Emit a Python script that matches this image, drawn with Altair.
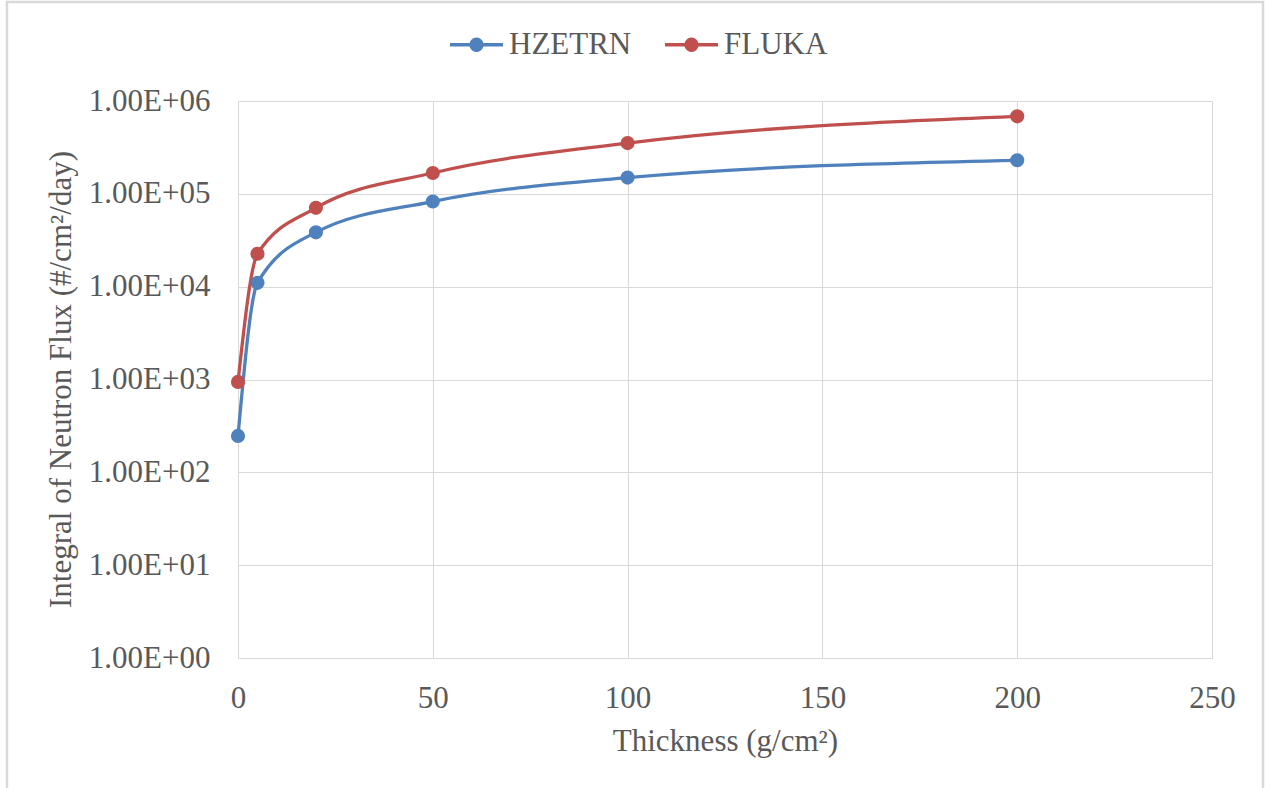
import math
import altair as alt
import pandas as pd

# ---- data ----
thickness = [0, 5, 20, 50, 100, 200]
hzetrn = [247, 11000, 38500, 82600, 149700, 229800]
fluka = [942, 22600, 70600, 167600, 352000, 684000]
series_names = ["HZETRN", "FLUKA"]
series_colors = ["#4F81BD", "#C0504D"]
x_ticks = [0, 50, 100, 150, 200, 250]
y_ticks = [1, 10, 100, 1000, 10000, 100000, 1000000]

rows = []
for name, vals in zip(series_names, [hzetrn, fluka]):
    for t, v in zip(thickness, vals):
        rows.append({"series": name, "thickness": t, "flux": v})
df = pd.DataFrame(rows)

FONT = "Liberation Serif"
TXT = "#595959"
GRID = "#D9D9D9"

color_scale = alt.Scale(domain=series_names, range=series_colors)

# legend glyph: line segment with a dot (unit square path)
_r = 0.27
_circle = "M" + "L".join(
    f"{_r*math.cos(2*math.pi*k/24):.4f},{_r*math.sin(2*math.pi*k/24):.4f}" for k in range(24)
) + "Z"
symbol_path = "M-1,-0.07L1,-0.07L1,0.07L-1,0.07Z " + _circle

x_enc = alt.X(
    "thickness:Q",
    scale=alt.Scale(domain=[0, 250], nice=False, zero=False),
    axis=alt.Axis(
        values=x_ticks,
        title="Thickness (g/cm²)",
        grid=True,
        gridColor=GRID,
        domain=True,
        domainColor=GRID,
        ticks=False,
        labelFlush=False,
        labelOverlap=False,
        labelFont=FONT,
        labelFontSize=31,
        labelColor=TXT,
        labelBaseline="alphabetic",
        labelPadding=49,
        titleFont=FONT,
        titleFontSize=31,
        titleFontWeight="normal",
        titleColor=TXT,
        titleBaseline="alphabetic",
        titleY=92,
    ),
)
y_enc = alt.Y(
    "flux:Q",
    scale=alt.Scale(type="log", domain=[1, 1000000], nice=False),
    axis=alt.Axis(
        values=y_ticks,
        labelExpr="'1.00E+0' + format(round(log(datum.value) / LN10), 'd')",
        title="Integral of Neutron Flux (#/cm²/day)",
        grid=True,
        gridColor=GRID,
        domain=False,
        ticks=False,
        labelFlush=False,
        labelOverlap=False,
        labelFont=FONT,
        labelFontSize=31,
        labelColor=TXT,
        labelPadding=28,
        titleFont=FONT,
        titleFontSize=31,
        titleFontWeight="normal",
        titleColor=TXT,
        titleAngle=-90,
        titleAlign="center",
        titleBaseline="alphabetic",
        titleX=-168,
        titleY=278,
    ),
)

legend = alt.Legend(
    orient="none",
    legendX=212,
    legendY=-83,
    direction="horizontal",
    title=None,
    symbolType=symbol_path,
    symbolSize=2809,
    symbolStrokeWidth=0,
    symbolOpacity=1,
    labelFont=FONT,
    labelFontSize=31,
    labelColor=TXT,
    labelOffset=6,
    columnPadding=33,
    padding=0,
)

lines = alt.Chart(df).mark_line(interpolate="monotone", strokeWidth=3.3).encode(
    x=x_enc,
    y=y_enc,
    color=alt.Color("series:N", scale=color_scale, legend=legend),
)

points = alt.Chart(df).mark_point(size=200, opacity=1, filled=True, shape="circle").encode(
    x="thickness:Q",
    y="flux:Q",
    color=alt.Color("series:N", scale=color_scale, legend=legend),
)

frame = alt.Chart(alt.Data(values=[{"k": 1}])).mark_rect(
    filled=False, stroke=GRID, strokeWidth=2.5
).encode(
    x=alt.value(-231),
    x2=alt.value(1025),
    y=alt.value(-99),
    y2=alt.value(720),
)

chart = (
    alt.layer(frame, lines, points)
    .properties(
        width=974,
        height=557,
        autosize=alt.AutoSizeParams(type="none"),
        padding={"left": 238, "top": 101, "right": 53, "bottom": 130},
        background="white",
    )
    .configure_view(stroke=None)
)

chart.save("out.html", embed_options={"renderer": "svg", "actions": False})
